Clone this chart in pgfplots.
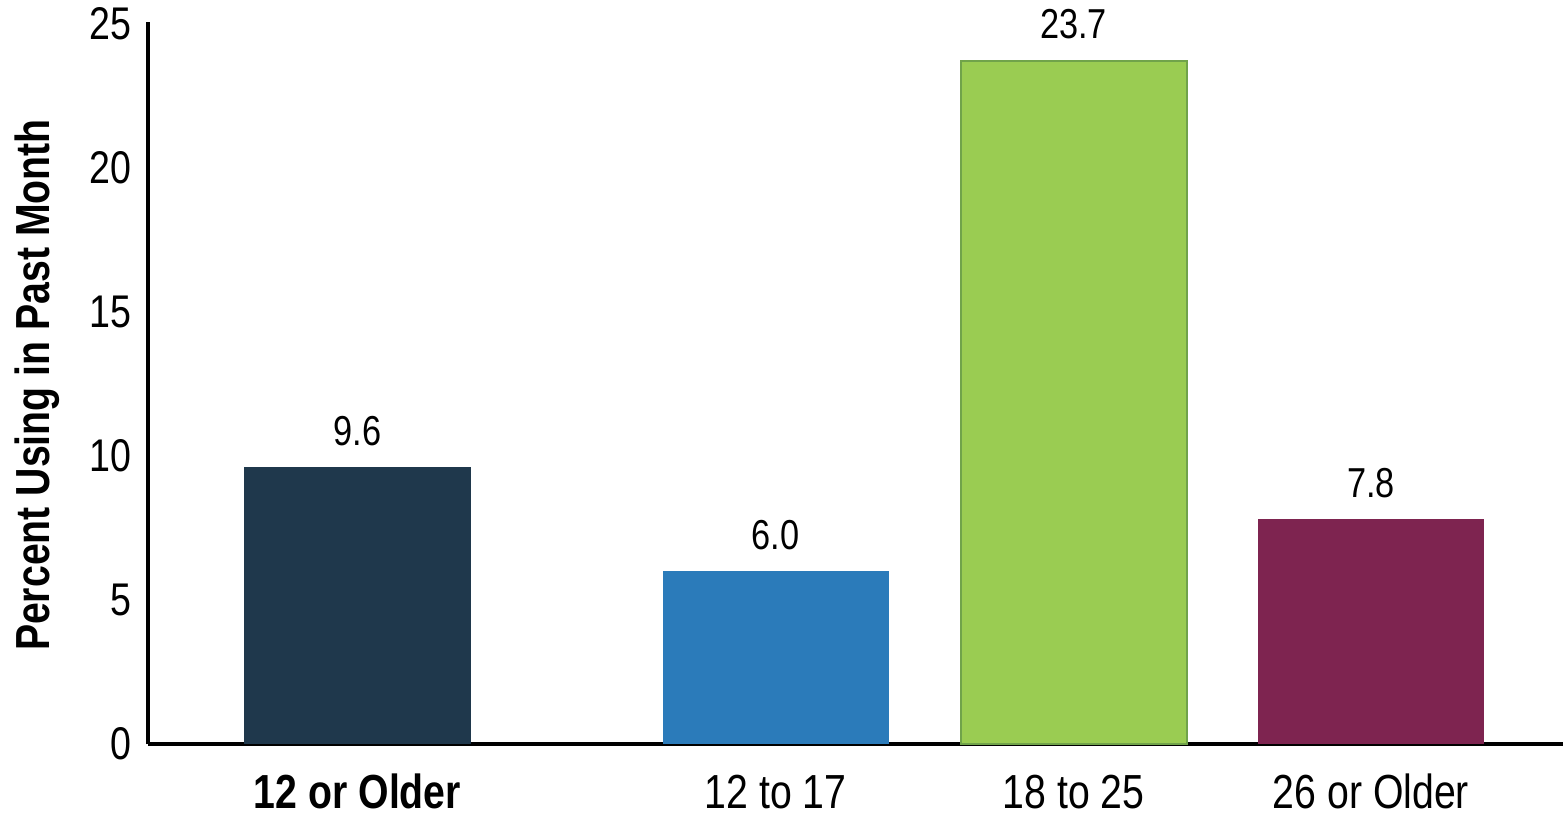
\documentclass[border=0pt]{standalone}
\usepackage{pgfplots}
\pgfplotsset{compat=1.18}
\usepackage{fontspec}
\setmainfont{Liberation Sans}[FakeStretch=0.82]
\definecolor{navybar}{HTML}{1F384C}
\definecolor{bluebar}{HTML}{2B7BBA}
\definecolor{greenbar}{HTML}{9ACC52}
\definecolor{greenedge}{HTML}{70A34A}
\definecolor{plumbar}{HTML}{7E2450}
\begin{document}
\begin{tikzpicture}
\begin{axis}[
    at={(0,0)}, anchor=south west,
    scale only axis,
    width=707.5bp, height=361bp,
    xmin=148, xmax=1563,
    ymin=0, ymax=25.05,
    axis lines*=left,
    axis line style={line width=2bp, black},
    xtick={357.5,775.5,1073.5,1371},
    xticklabels={\textbf{12 or Older},12 to 17,18 to 25,26 or Older},
    ytick={0,5,10,15,20,25},
    major tick length=0pt,
    /pgf/number format/assume math mode=true,
    tick label style={font=\fontsize{23}{27}\selectfont},
    xticklabel style={anchor=base, yshift=-32bp, inner sep=0pt, font=\fontsize{24}{28}\selectfont},
    yticklabel style={anchor=east, xshift=-5bp},
    ylabel={\textbf{Percent Using in Past Month}},
    ylabel style={at={(axis description cs:0,0.497)}, anchor=center, yshift=55.5bp, font=\fontsize{24}{28}\selectfont},
    ybar, bar width=226, bar shift=0pt,
    nodes near coords,
    nodes near coords style={/pgf/number format/fixed, /pgf/number format/fixed zerofill, /pgf/number format/precision=1},
    every node near coord/.append style={anchor=base, yshift=11bp, font=\fontsize{21}{25}\selectfont, text=black},
]
\addplot[fill=navybar, draw=none] coordinates {(357.5,9.6)};
\addplot[fill=bluebar, draw=none] coordinates {(775.5,6.0)};
\addplot[fill=greenbar, draw=greenedge, line width=1bp] coordinates {(1073.5,23.7)};
\addplot[fill=plumbar, draw=none] coordinates {(1371,7.8)};
\end{axis}
\pgfresetboundingbox
\path[use as bounding box] (-74bp,-36bp) rectangle (708.5bp,372bp);
\end{tikzpicture}
\end{document}
